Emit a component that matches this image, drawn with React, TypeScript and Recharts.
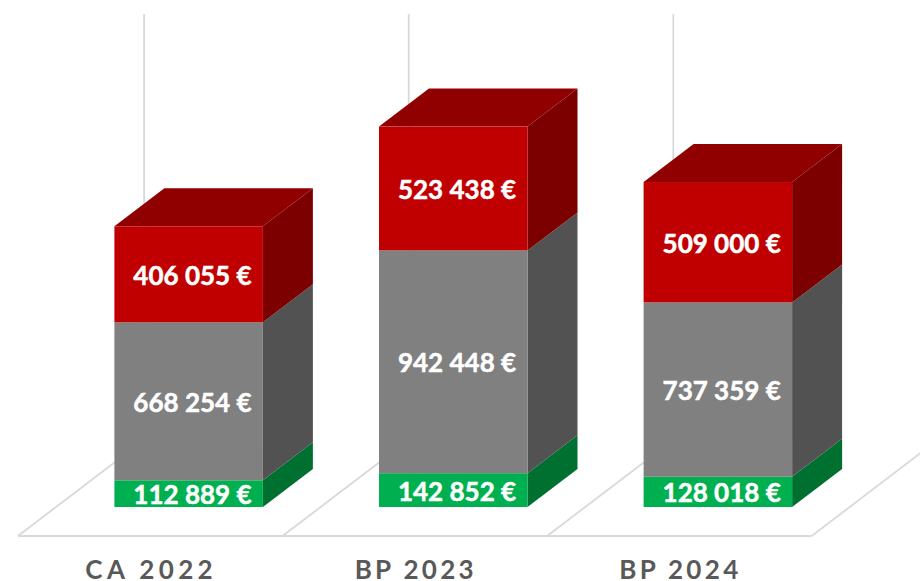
import React from "react";
import { BarChart, Bar, XAxis, YAxis, LabelList } from "recharts";

const categories = ["CA 2022", "BP 2023", "BP 2024"];
const greenValues = [112889, 142852, 128018];
const greyValues = [668254, 942448, 737359];
const redValues = [406055, 523438, 509000];

const rows = categories.map((name, i) => ({
  name,
  green: greenValues[i],
  grey: greyValues[i],
  red: redValues[i],
}));

const DX = 50;
const DY = 38;
const FONT = "Lato, sans-serif";
const TICK_SPACING = [4.4, 3.3, 3.3];

const fmt = (v: number) => {
  const s = String(v);
  return s.slice(0, s.length - 3) + " " + s.slice(-3) + " €";
};

const Box = (p: any) => {
  const { x, y, width, height, fill, side, top } = p;
  const r = x + width;
  const b = y + height;
  return (
    <g>
      <polygon points={`${r},${b} ${r + DX},${b - DY} ${r + DX},${y - DY} ${r},${y}`} fill={side} />
      {top ? <polygon points={`${x},${y} ${x + DX},${y - DY} ${r + DX},${y - DY} ${r},${y}`} fill={top} /> : null}
      <rect x={x} y={y} width={width} height={height} fill={fill} />
    </g>
  );
};

// Floor cell and back wall line of one category, placed from the band the library computed.
const Floor = (p: any) => {
  const { x, y, height } = p;
  const base = y + height;
  const cellW = 264.6;
  const left = x - 96.5;
  const floorY = base + 29;
  const backX = x + 29.7;
  const backY = floorY - 96;
  const stroke = "#D9D9D9";
  return (
    <g fill="none" stroke={stroke} strokeWidth={1.8}>
      <line x1={backX} y1={y} x2={backX} y2={backY} />
      <line x1={left} y1={floorY} x2={backX} y2={backY} />
      <line x1={left} y1={floorY} x2={left + cellW} y2={floorY} />
      {p.index === categories.length - 1 ? (
        <line x1={left + cellW} y1={floorY} x2={left + cellW + 126} y2={backY} />
      ) : null}
    </g>
  );
};

const AxisTick = (p: any) => (
  <text
    x={p.x - 37.5}
    y={578.5}
    textAnchor="middle"
    fontFamily={FONT}
    fontWeight={700}
    fontSize={26}
    letterSpacing={TICK_SPACING[p.index]}
    fill="#595959"
  >
    {p.payload.value}
  </text>
);

const ValueLabel = (p: any) => {
  const { x, y, width, height, value } = p;
  return (
    <text
      x={x + width / 2 + 3.8}
      y={y + height / 2 + 10.5}
      textAnchor="middle"
      fontFamily={FONT}
      fontWeight={700}
      fontSize={26}
      fill="#FFFFFF"
      stroke="#FFFFFF"
      strokeWidth={0.5}
    >
      {fmt(value)}
    </text>
  );
};

export default function App() {
  return (
    <div style={{ position: "absolute", left: 0, top: 0, width: 920, height: 581, background: "#fff", overflow: "hidden" }}>
      <BarChart
        width={920}
        height={581}
        data={rows}
        barCategoryGap={0}
        barSize={148.5}
        margin={{ top: 14, right: 69.8, bottom: 0, left: 56.4 }}
      >
        <XAxis dataKey="name" height={74} axisLine={false} tickLine={false} tick={<AxisTick />} interval={0} />
        <YAxis hide width={0} domain={[0, 2085000]} />
        <Bar
          dataKey="green"
          stackId="a"
          fill="#00B050"
          background={<Floor />}
          isAnimationActive={false}
          shape={<Box side="#007031" />}
        >
          <LabelList dataKey="green" content={<ValueLabel />} />
        </Bar>
        <Bar dataKey="grey" stackId="a" fill="#808080" isAnimationActive={false} shape={<Box side="#525252" />}>
          <LabelList dataKey="grey" content={<ValueLabel />} />
        </Bar>
        <Bar dataKey="red" stackId="a" fill="#C00000" isAnimationActive={false} shape={<Box side="#7C0000" top="#900000" />}>
          <LabelList dataKey="red" content={<ValueLabel />} />
        </Bar>
      </BarChart>
    </div>
  );
}
